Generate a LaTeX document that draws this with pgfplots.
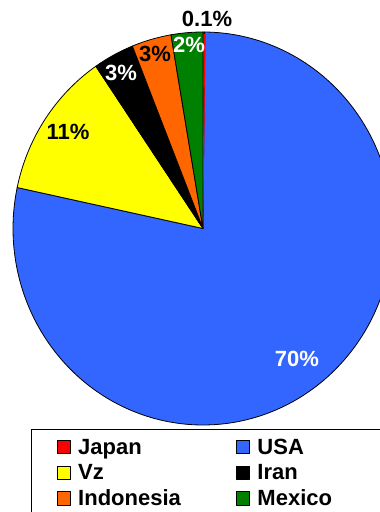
\documentclass[border=0pt]{standalone}
\usepackage{pgfplots}
\pgfplotsset{compat=1.18}
\usepackage{fontspec}
\setmainfont{Liberation Sans}
\definecolor{cJapan}{RGB}{255,0,0}
\definecolor{cUSA}{RGB}{51,102,255}
\definecolor{cVz}{RGB}{255,255,0}
\definecolor{cIran}{RGB}{0,0,0}
\definecolor{cIndo}{RGB}{255,102,0}
\definecolor{cMex}{RGB}{0,128,0}
% slice values (share of production, %)
\def\vJapan{0.12}
\def\vUSA{69.7}
\def\vVz{10.8}
\def\vIran{3.1}
\def\vIndo{3.0}
\def\vMex{2.4}
\newcommand\lbl{\fontsize{22}{26}\selectfont\bfseries}
\begin{document}
\begin{tikzpicture}[x=1pt,y=1pt]
\useasboundingbox (0,0) rectangle (380,512);
\clip (0,0) rectangle (380,512);
\pgfmathsetmacro\tot{\vJapan+\vUSA+\vVz+\vIran+\vIndo+\vMex}
\pgfmathsetmacro\k{360/\tot}
\pgfmathsetmacro\aA{\k*\vJapan}
\pgfmathsetmacro\aB{\aA+\k*\vUSA}
\pgfmathsetmacro\aC{\aB+\k*\vVz}
\pgfmathsetmacro\aD{\aC+\k*\vIran}
\pgfmathsetmacro\aE{\aD+\k*\vIndo}
\pgfmathsetmacro\aJ{\aA+0.25}
\begin{axis}[at={(0,0)}, anchor=south west, scale only axis,
  width=380pt, height=512pt, xmin=0, xmax=380, ymin=0, ymax=512,
  hide axis, clip=true,
  pie/.style={draw=black, line width=0.8pt, line join=round},
  legend columns=2, legend cell align=left,
  legend image code/.code={\draw[#1] (0pt,-5pt) rectangle (13.3pt,8.3pt);},
  legend style={at={(axis cs:30.7,82.7)}, anchor=north west, draw=black,
    line width=0.8pt, inner xsep=25.6pt, inner ysep=6.3pt, row sep=0.7pt,
    font=\lbl,
    nodes={inner sep=2pt, text height=16pt, text depth=5pt, text width=110pt, align=left},
    /tikz/every odd column/.append style={column sep=5.4pt},
    /tikz/every even column/.append style={column sep=45.8pt}},
]
\addplot[pie, fill=cJapan, domain=0:\aA, samples=3] ({203+190*sin(x)},{283.5+196.5*cos(x)}) -- (axis cs:203,283.5) -- cycle;
\addlegendentry{Japan}
\addplot[pie, fill=cUSA, domain=\aA:\aB, samples=240] ({203+190*sin(x)},{283.5+196.5*cos(x)}) -- (axis cs:203,283.5) -- cycle;
\addlegendentry{USA}
\addplot[pie, fill=cVz, domain=\aB:\aC, samples=50] ({203+190*sin(x)},{283.5+196.5*cos(x)}) -- (axis cs:203,283.5) -- cycle;
\addlegendentry{Vz}
\addplot[pie, fill=cIran, domain=\aC:\aD, samples=20] ({203+190*sin(x)},{283.5+196.5*cos(x)}) -- (axis cs:203,283.5) -- cycle;
\addlegendentry{Iran}
\addplot[pie, fill=cIndo, domain=\aD:\aE, samples=20] ({203+190*sin(x)},{283.5+196.5*cos(x)}) -- (axis cs:203,283.5) -- cycle;
\addlegendentry{Indonesia}
\addplot[pie, fill=cMex, domain=\aE:360, samples=20] ({203+190*sin(x)},{283.5+196.5*cos(x)}) -- (axis cs:203,283.5) -- cycle;
\addlegendentry{Mexico}
\addplot[forget plot, fill=cJapan, draw=cJapan, line width=0.3pt, domain=0.25:\aJ, samples=3] ({203+188*sin(x)},{283.5+194.5*cos(x)}) -- (axis cs:203,283.5) -- cycle;
\node[font=\lbl, text=white, anchor=base] at (axis cs:297,146) {70\%};
\node[font=\lbl, text=black, anchor=base] at (axis cs:68,372) {11\%};
\node[font=\lbl, text=white, anchor=base] at (axis cs:121,431) {3\%};
\node[font=\lbl, text=black, anchor=base] at (axis cs:155,450) {3\%};
\node[font=\lbl, text=white, anchor=base] at (axis cs:189,459) {2\%};
\node[font=\lbl, text=black, anchor=base] at (axis cs:207,485) {0.1\%};
\end{axis}
\end{tikzpicture}
\end{document}
